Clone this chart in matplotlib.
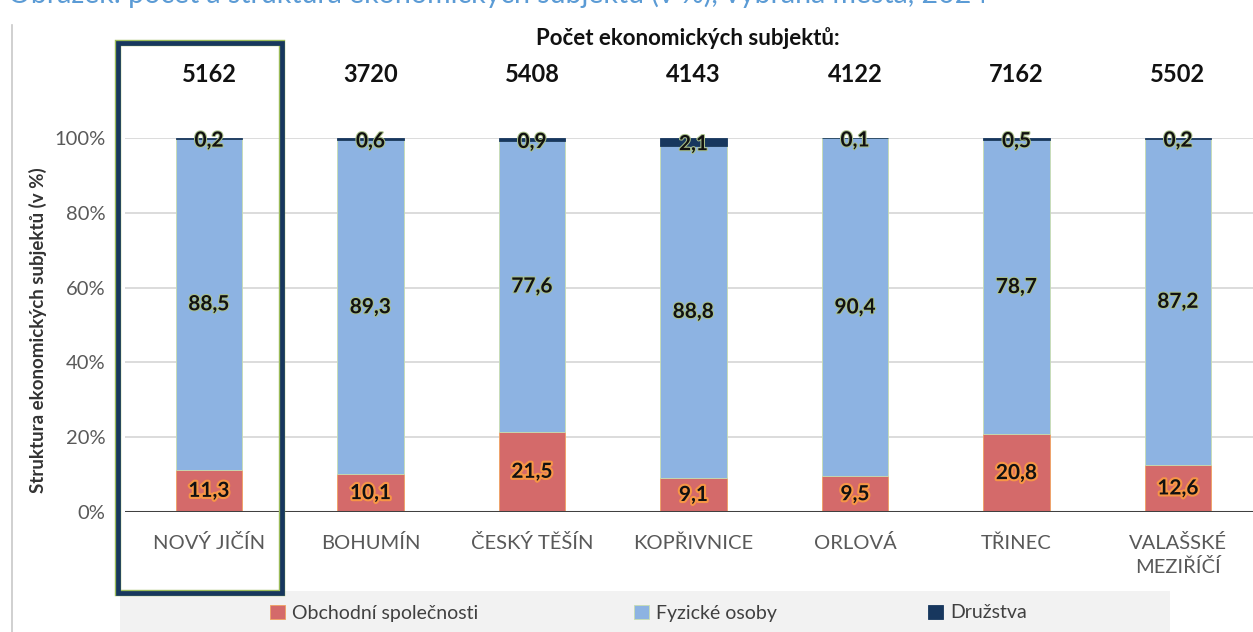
import matplotlib
matplotlib.use("Agg")
import matplotlib.pyplot as plt
import matplotlib.patheffects as pe
from matplotlib.patches import Rectangle
from matplotlib.lines import Line2D

plt.rcParams['font.family'] = ['Lato', 'DejaVu Sans']

cities = ["NOVÝ JIČÍN", "BOHUMÍN", "ČESKÝ TĚŠÍN", "KOPŘIVNICE", "ORLOVÁ", "TŘINEC", "VALAŠSKÉ\nMEZIŘÍČÍ"]
counts = [5162, 3720, 5408, 4143, 4122, 7162, 5502]
obchodni = [11.3, 10.1, 21.5, 9.1, 9.5, 20.8, 12.6]
fyzicke = [88.5, 89.3, 77.6, 88.8, 90.4, 78.7, 87.2]
druzstva = [0.2, 0.6, 0.9, 2.1, 0.1, 0.5, 0.2]
series_names = ["Obchodní společnosti", "Fyzické osoby", "Družstva"]
yticks = [0, 20, 40, 60, 80, 100]

c_red = "#D46A6A"
c_blue = "#8DB3E2"
c_navy = "#17375E"

W, H = 1253, 632
fig = plt.figure(figsize=(W / 100, H / 100), dpi=100)
ax_left, ax_right = 125, 1253
ax_bot, ax_top = 512, 138
ax = fig.add_axes([ax_left / W, 1 - ax_bot / H, (ax_right - ax_left) / W, (ax_bot - ax_top) / H])

x = list(range(len(cities)))
bw = 0.41
b1 = ax.bar(x, obchodni, bw, color=c_red, edgecolor="#F0A060", linewidth=0.6, zorder=3, label=series_names[0])
b2 = ax.bar(x, fyzicke, bw, bottom=obchodni, color=c_blue, edgecolor="#C8DDB0", linewidth=0.6, zorder=3, label=series_names[1])
bot3 = [a + b for a, b in zip(obchodni, fyzicke)]
b3 = ax.bar(x, druzstva, bw, bottom=bot3, color=c_navy, edgecolor=c_navy, linewidth=0.6, zorder=3, label=series_names[2])

ax.set_ylim(0, 100)
spacing = (1178 - 209) / 6
ax.set_xlim(-(209 - ax_left) / spacing, (ax_right - 209) / spacing)
ax.set_yticks(yticks)
ax.set_yticklabels([f"{t}%" for t in yticks])
ax.set_xticks(x)
ax.set_xticklabels(cities, linespacing=1.4)
ax.tick_params(axis="both", length=0, labelsize=14.5, colors="#595959")
ax.tick_params(axis="y", pad=14)
ax.tick_params(axis="x", pad=16)
for lbl in ax.get_xticklabels():
    lbl.set_verticalalignment("top")
for s in ax.spines.values():
    s.set_visible(False)
ax.grid(axis="y", color="#D9D9D9", linewidth=1.3, zorder=0)
ax.axhline(0, color="#404040", linewidth=2.2, zorder=4)

stroke_red = [pe.withStroke(linewidth=3, foreground="#F79646")]
stroke_blue = [pe.withStroke(linewidth=1.5, foreground="#A9C08A")]
for i in x:
    ax.text(i, obchodni[i] / 2, f"{obchodni[i]:.1f}".replace(".", ","), ha="center", va="center",
            fontsize=15, fontweight="bold", color="#111111", path_effects=stroke_red, zorder=5)
    ax.text(i, obchodni[i] + fyzicke[i] / 2, f"{fyzicke[i]:.1f}".replace(".", ","), ha="center", va="center",
            fontsize=15, fontweight="bold", color="#111111", path_effects=stroke_blue, zorder=5)
    ax.text(i, bot3[i] + druzstva[i] / 2 - 0.6, f"{druzstva[i]:.1f}".replace(".", ","), ha="center", va="center",
            fontsize=15, fontweight="bold", color="#111111", path_effects=stroke_blue, zorder=5, clip_on=False)
    ax.text(i, (ax_bot - 75) / (ax_bot - ax_top) * 100, str(counts[i]), ha="center", va="center",
            fontsize=17, fontweight="bold", color="#111111", clip_on=False)

fig.text(688 / W, 1 - 38 / H, "Počet ekonomických subjektů:", ha="center", va="center",
         fontsize=16, fontweight="bold", color="#111111")
fig.text(38 / W, 1 - 330 / H, "Struktura ekonomických subjektů (v %)", ha="center", va="center",
         rotation=90, fontsize=13.5, fontweight="bold", color="#333333")

# Cut-off caption at top
fig.text(8 / W, 1 - 3 / H, "Obrázek: počet a struktura ekonomických subjektů (v %), vybraná města, 2024",
         ha="left", va="baseline", fontsize=20.5, color="#5B9BD5")

# Left border line of chart area
fig.add_artist(Line2D([12 / W, 12 / W], [0, 1 - 25 / H], color="#C8C8C8", linewidth=1.2))

# Legend background
fig.add_artist(Rectangle((120 / W, 0), (1170 - 120) / W, (H - 591) / H, transform=fig.transFigure,
                         facecolor="#F2F2F2", edgecolor="none", zorder=0))

# Highlight rectangle around first category
fig.add_artist(Rectangle((118 / W, 1 - 593 / H), (282 - 118) / W, (593 - 43) / H, transform=fig.transFigure,
                         facecolor="none", edgecolor="#9BBB59", linewidth=4.6, zorder=6))
fig.add_artist(Rectangle((118 / W, 1 - 593 / H), (282 - 118) / W, (593 - 43) / H, transform=fig.transFigure,
                         facecolor="none", edgecolor=c_navy, linewidth=3.4, zorder=7))

# Legend entries
for h, xpos in zip([b1, b2, b3], [270, 634, 928]):
    fig.legend(handles=[h], loc="center left", bbox_to_anchor=(xpos / W, 1 - 613 / H), frameon=False,
               handlelength=0.75, handleheight=0.75, handletextpad=0.4, borderpad=0, borderaxespad=0,
               fontsize=14, labelcolor="#404040")

fig.savefig("out.png", dpi=100)
